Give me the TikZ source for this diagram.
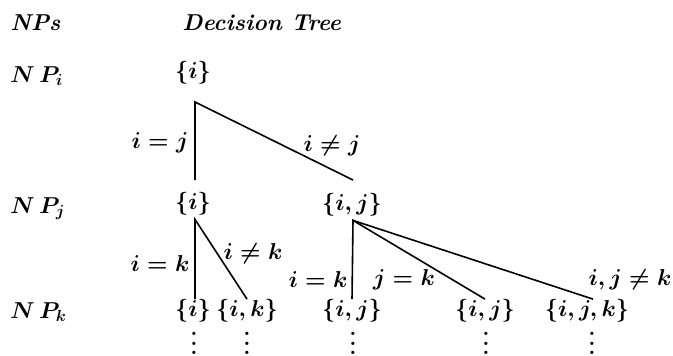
\RequirePackage{fix-cm}
\documentclass[tikz,border=0pt]{standalone}
\newcommand{\mydots}{\vbox{\baselineskip=4.75pt\lineskiplimit=0pt\hbox{.}\hbox{.}\hbox{.}}}
\begin{document}
\fontsize{11.5}{14}\selectfont
\begin{tikzpicture}[x=0.5pt,y=-0.5pt,
  lbl/.style={inner sep=0pt, font=\fontsize{11.5}{14}\selectfont\boldmath},
  edge/.style={line width=0.8pt}]
\useasboundingbox (0,0) rectangle (673,355);
% header
\node[lbl,anchor=base west] (nps) at (10,30) {\bfseries\itshape NPs};
\node[lbl,anchor=base west] (dt) at (182,30) {\bfseries\itshape Decision Tree};
% row labels
\node[lbl,anchor=base west] (npi) at (10,82) {$N\,P_i$};
\node[lbl,anchor=base west] (npj) at (10,213) {$N\,P_j$};
\node[lbl,anchor=base west] (npk) at (10,318) {$N\,P_k$};
% tree nodes
\node[lbl] (r1) at (193,73) {$\{i\}$};
\node[lbl] (r2a) at (193,204) {$\{i\}$};
\node[lbl] (r2b) at (352,205) {$\{i,j\}$};
\node[lbl] (r3a) at (193,311) {$\{i\}$};
\node[lbl] (r3b) at (247,311) {$\{i,k\}$};
\node[lbl] (r3c) at (352,311) {$\{i,j\}$};
\node[lbl] (r3d) at (485,311) {$\{i,j\}$};
\node[lbl] (r3e) at (587,311) {$\{i,j,k\}$};
% first level
\coordinate (v1) at (195,102);
\coordinate (e1a) at (195,180);
\coordinate (e1b) at (353,180);
\draw[edge] (e1a) -- (v1) -- (e1b);
\node[lbl] (l1) at (160,143) {$i=j$};
\node[lbl] (l2) at (332,146) {$i\neq j$};
% second level, left
\draw[edge] ([xshift=1pt]r3a.north) -- ([xshift=1pt,yshift=-1.75pt]r2a.south) -- (r3b.north);
\node[lbl] (l3) at (160,264) {$i=k$};
\node[lbl] (l4) at (253,254) {$i\neq k$};
% second level, right
\draw[edge] (r3c.north) -- ([xshift=0.5pt,yshift=-1.75pt]r2b.south) -- (r3d.north);
\draw[edge] ([xshift=0.5pt,yshift=-1.75pt]r2b.south) -- ([xshift=3pt]r3e.north);
\node[lbl] (l5) at (318,280) {$i=k$};
\node[lbl] (l6) at (404,280) {$j=k$};
\node[lbl] (l7) at (630,280) {$i,j\neq k$};
% continuation dots
\foreach \n/\x in {da/194,db/247,dc/353,dd/486,de/592}
  \node[lbl,anchor=north,font=\bfseries] (\n) at (\x,332) {\mydots};
\end{tikzpicture}
\end{document}
